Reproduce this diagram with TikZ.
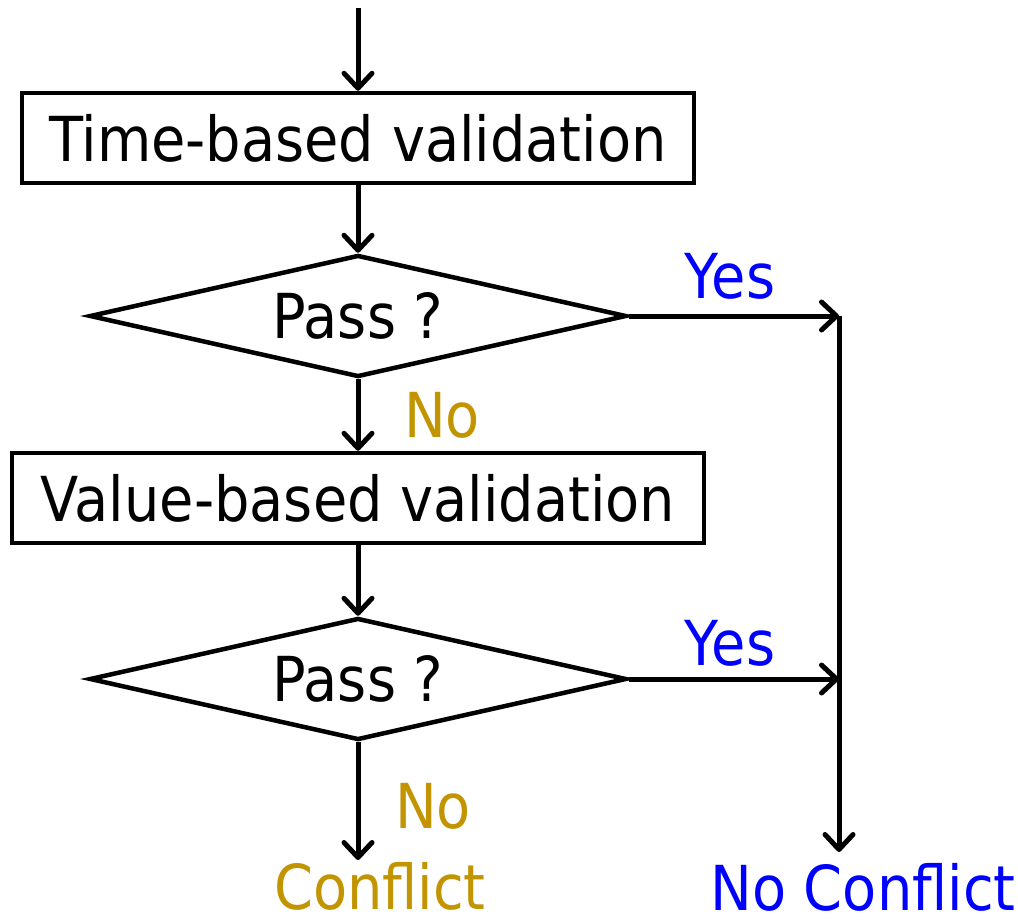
\documentclass[tikz,border=0pt]{standalone}
\usepackage{fontspec}
\setmainfont{DejaVu Sans}[FakeStretch=0.9]
\usetikzlibrary{shapes.geometric,arrows.meta}
\definecolor{yescol}{RGB}{0,0,255}
\definecolor{nocol}{RGB}{194,148,0}
\tikzset{
  flow/.style={line width=5pt, line join=round, -{Straight Barb[length=15pt,width=28pt,line join=round,line cap=round]}},
  procbox/.style={draw, line width=4.5pt, rectangle, inner sep=0pt, font=\fontsize{62}{74}\selectfont},
  decision/.style={draw, line width=4.5pt, diamond, inner sep=0pt, aspect=4.4,
    minimum width=537pt, minimum height=122pt, font=\fontsize{62}{74}\selectfont},
  lbl/.style={anchor=base, inner sep=0pt, font=\fontsize{62}{74}\selectfont},
}
\begin{document}
\begin{tikzpicture}[x=1pt,y=-1pt]
\useasboundingbox (0,0) rectangle (1018,924);

\node[procbox, minimum width=672pt, minimum height=90pt] (time) at (358,138) {Time-based validation};
\node[decision] (pass1) at (358,316) {Pass ?};
\node[procbox, minimum width=692pt, minimum height=90pt] (value) at (358,498) {Value-based validation};
\node[decision] (pass2) at (358,679) {Pass ?};

\coordinate (start) at (358,8);
\coordinate (join1) at (839,316);
\coordinate (join2) at (839,679);
\coordinate (down) at (839,852);
\coordinate (fail) at (358,860);

\draw[flow] (start) -- (time.north);
\draw[flow] (time.south) -- (pass1.north);
\draw[flow] (pass1.south) -- (value.north);
\draw[flow] (value.south) -- (pass2.north);
\draw[flow] (pass2.south) -- (fail);
\draw[flow] (pass1.east) -- (join1);
\draw[flow] (pass2.east) -- (join2);
\draw[flow] (join1) -- (down);

\node[lbl, text=yescol] (yes1) at (730,298) {Yes};
\node[lbl, text=yescol] (yes2) at (730,665) {Yes};
\node[lbl, text=nocol] (no1) at (442,437) {No};
\node[lbl, text=nocol] (no2) at (433,828) {No};
\node[lbl, text=nocol] (conflict) at (380,909) {Conflict};
\node[lbl, text=yescol] (noconflict) at (863,910) {No Conflict};
\end{tikzpicture}
\end{document}
